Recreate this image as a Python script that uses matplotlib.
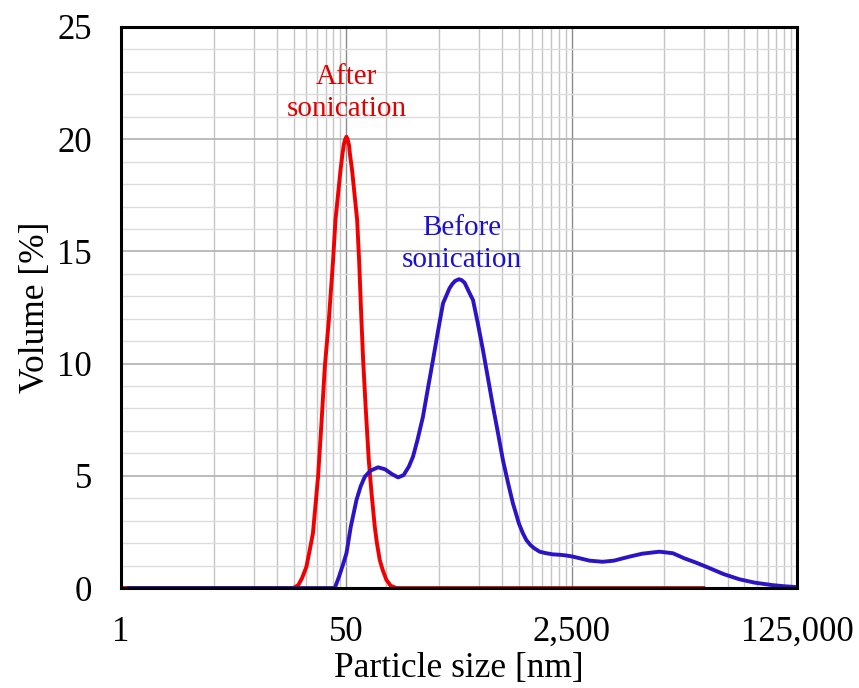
import matplotlib
matplotlib.use("Agg")
from matplotlib import pyplot as plt
from matplotlib.ticker import FixedLocator, NullFormatter

plt.rcParams['font.family'] = ['Liberation Serif', 'DejaVu Serif']

# After sonication (red)
after_size = [1, 19.9, 21.7, 23.2, 25.0, 26.5, 28.0, 30.6, 32.5, 34.4, 36.9, 39.7, 41.4,
              45.2, 46.8, 48.0, 49.0, 50.07, 51.2, 52.5, 53.1, 55.2, 60.3, 62.4, 64.5,
              66.9, 70.0, 73.8, 77.5, 81.9, 85.0, 89.3, 94.0, 100.3, 108, 119.4, 25000]
after_vol = [0, 0, 0.13, 0.45, 0.95, 1.7, 2.45, 4.96, 7.4, 9.86, 11.94, 14.6, 16.4,
             18.63, 19.37, 19.8, 19.98, 20.11, 19.98, 19.7, 19.37, 18.63, 16.4, 14.6, 12.4,
             10.16, 8.0, 5.7, 4.2, 2.73, 2.0, 1.25, 0.8, 0.36, 0.1, 0, 0]

# Before sonication (blue)
before_size = [1.13, 40.9, 44, 47, 50.1, 54, 59.6, 64, 68.9, 76, 86.7, 98, 110, 122.7,
               135, 148, 159, 172, 189, 205, 225, 245, 268, 300, 315, 330, 353, 370, 390,
               420, 451, 490, 536, 585, 638, 700, 758, 830, 902, 1000, 1070, 1138, 1220,
               1300, 1433, 1610, 1806, 2050, 2277, 2555, 3000, 3410, 4275, 5200, 6830,
               8500, 11490, 14500, 17740, 21500, 25830, 35000, 45990, 60000, 81500,
               100000, 125000]
before_vol = [0, 0, 0.5, 1.02, 1.55, 2.73, 3.92, 4.52, 4.96, 5.23, 5.38, 5.29, 5.08, 4.93,
              5.03, 5.41, 5.85, 6.6, 7.63, 8.82, 10.16, 11.42, 12.69, 13.36, 13.55, 13.68,
              13.76, 13.72, 13.6, 13.2, 12.83, 11.8, 10.6, 9.34, 8.08, 6.82, 5.70, 4.66,
              3.77, 2.88, 2.45, 2.14, 1.92, 1.78, 1.62, 1.55, 1.5, 1.48, 1.45, 1.40, 1.3,
              1.22, 1.17, 1.22, 1.40, 1.53, 1.62, 1.55, 1.32, 1.14, 0.95, 0.62, 0.39,
              0.24, 0.13, 0.08, 0.04]

x_ticks = [1, 50, 2500, 125000]
x_tick_labels = ["1", "50", "2,500", "125,000"]
x_minor = ([5, 10, 15, 20, 25, 30, 35, 40, 45, 100]
           + [250 * k for k in range(1, 10)]
           + [12500 * k for k in range(1, 10)])
y_ticks = [0, 5, 10, 15, 20, 25]

fig = plt.figure(figsize=(8.59, 6.88), dpi=100)
ax = fig.add_axes([0.1409, 0.1453, 0.7869, 0.8155])

ax.set_xscale('log')
ax.set_xlim(1, 125000)
ax.set_ylim(0, 25)

ax.xaxis.set_major_locator(FixedLocator(x_ticks))
ax.set_xticklabels(x_tick_labels)
ax.xaxis.set_minor_locator(FixedLocator(x_minor))
ax.xaxis.set_minor_formatter(NullFormatter())
ax.yaxis.set_major_locator(FixedLocator(y_ticks))
ax.yaxis.set_minor_locator(FixedLocator(list(range(0, 26))))

ax.grid(which='minor', axis='x', color='#c4c4c4', linewidth=1.0)
ax.grid(which='major', axis='x', color='#8c8c8c', linewidth=1.0)
ax.grid(which='minor', axis='y', color='#dcdcdc', linewidth=1.0)
ax.grid(which='major', axis='y', color='#b0b0b0', linewidth=1.2)
ax.set_axisbelow(True)

ax.plot(after_size, after_vol, color='#f00000', linewidth=2.8,
        solid_joinstyle='round', solid_capstyle='round')
ax.plot(before_size, before_vol, color='#2b13c6', linewidth=2.8,
        solid_joinstyle='round', solid_capstyle='round')

ax.text(50, 22.08, "After\nsonication", color='#e00000', fontsize=21,
        ha='center', va='center', linespacing=1.3)
ax.text(370, 15.35, "Before\nsonication", color='#1a10d0', fontsize=21,
        ha='center', va='center', linespacing=1.3)

for s in ax.spines.values():
    s.set_linewidth(2.2)
    s.set_color('black')

ax.tick_params(which='both', length=0, labelsize=25)
ax.tick_params(axis='x', pad=20)
ax.tick_params(axis='y', pad=21)
ax.set_xlabel("Particle size [nm]", fontsize=25.5, labelpad=2)
ax.set_ylabel("Volume [%]", fontsize=25.5, labelpad=4)

fig.savefig("out.png", dpi=100)
